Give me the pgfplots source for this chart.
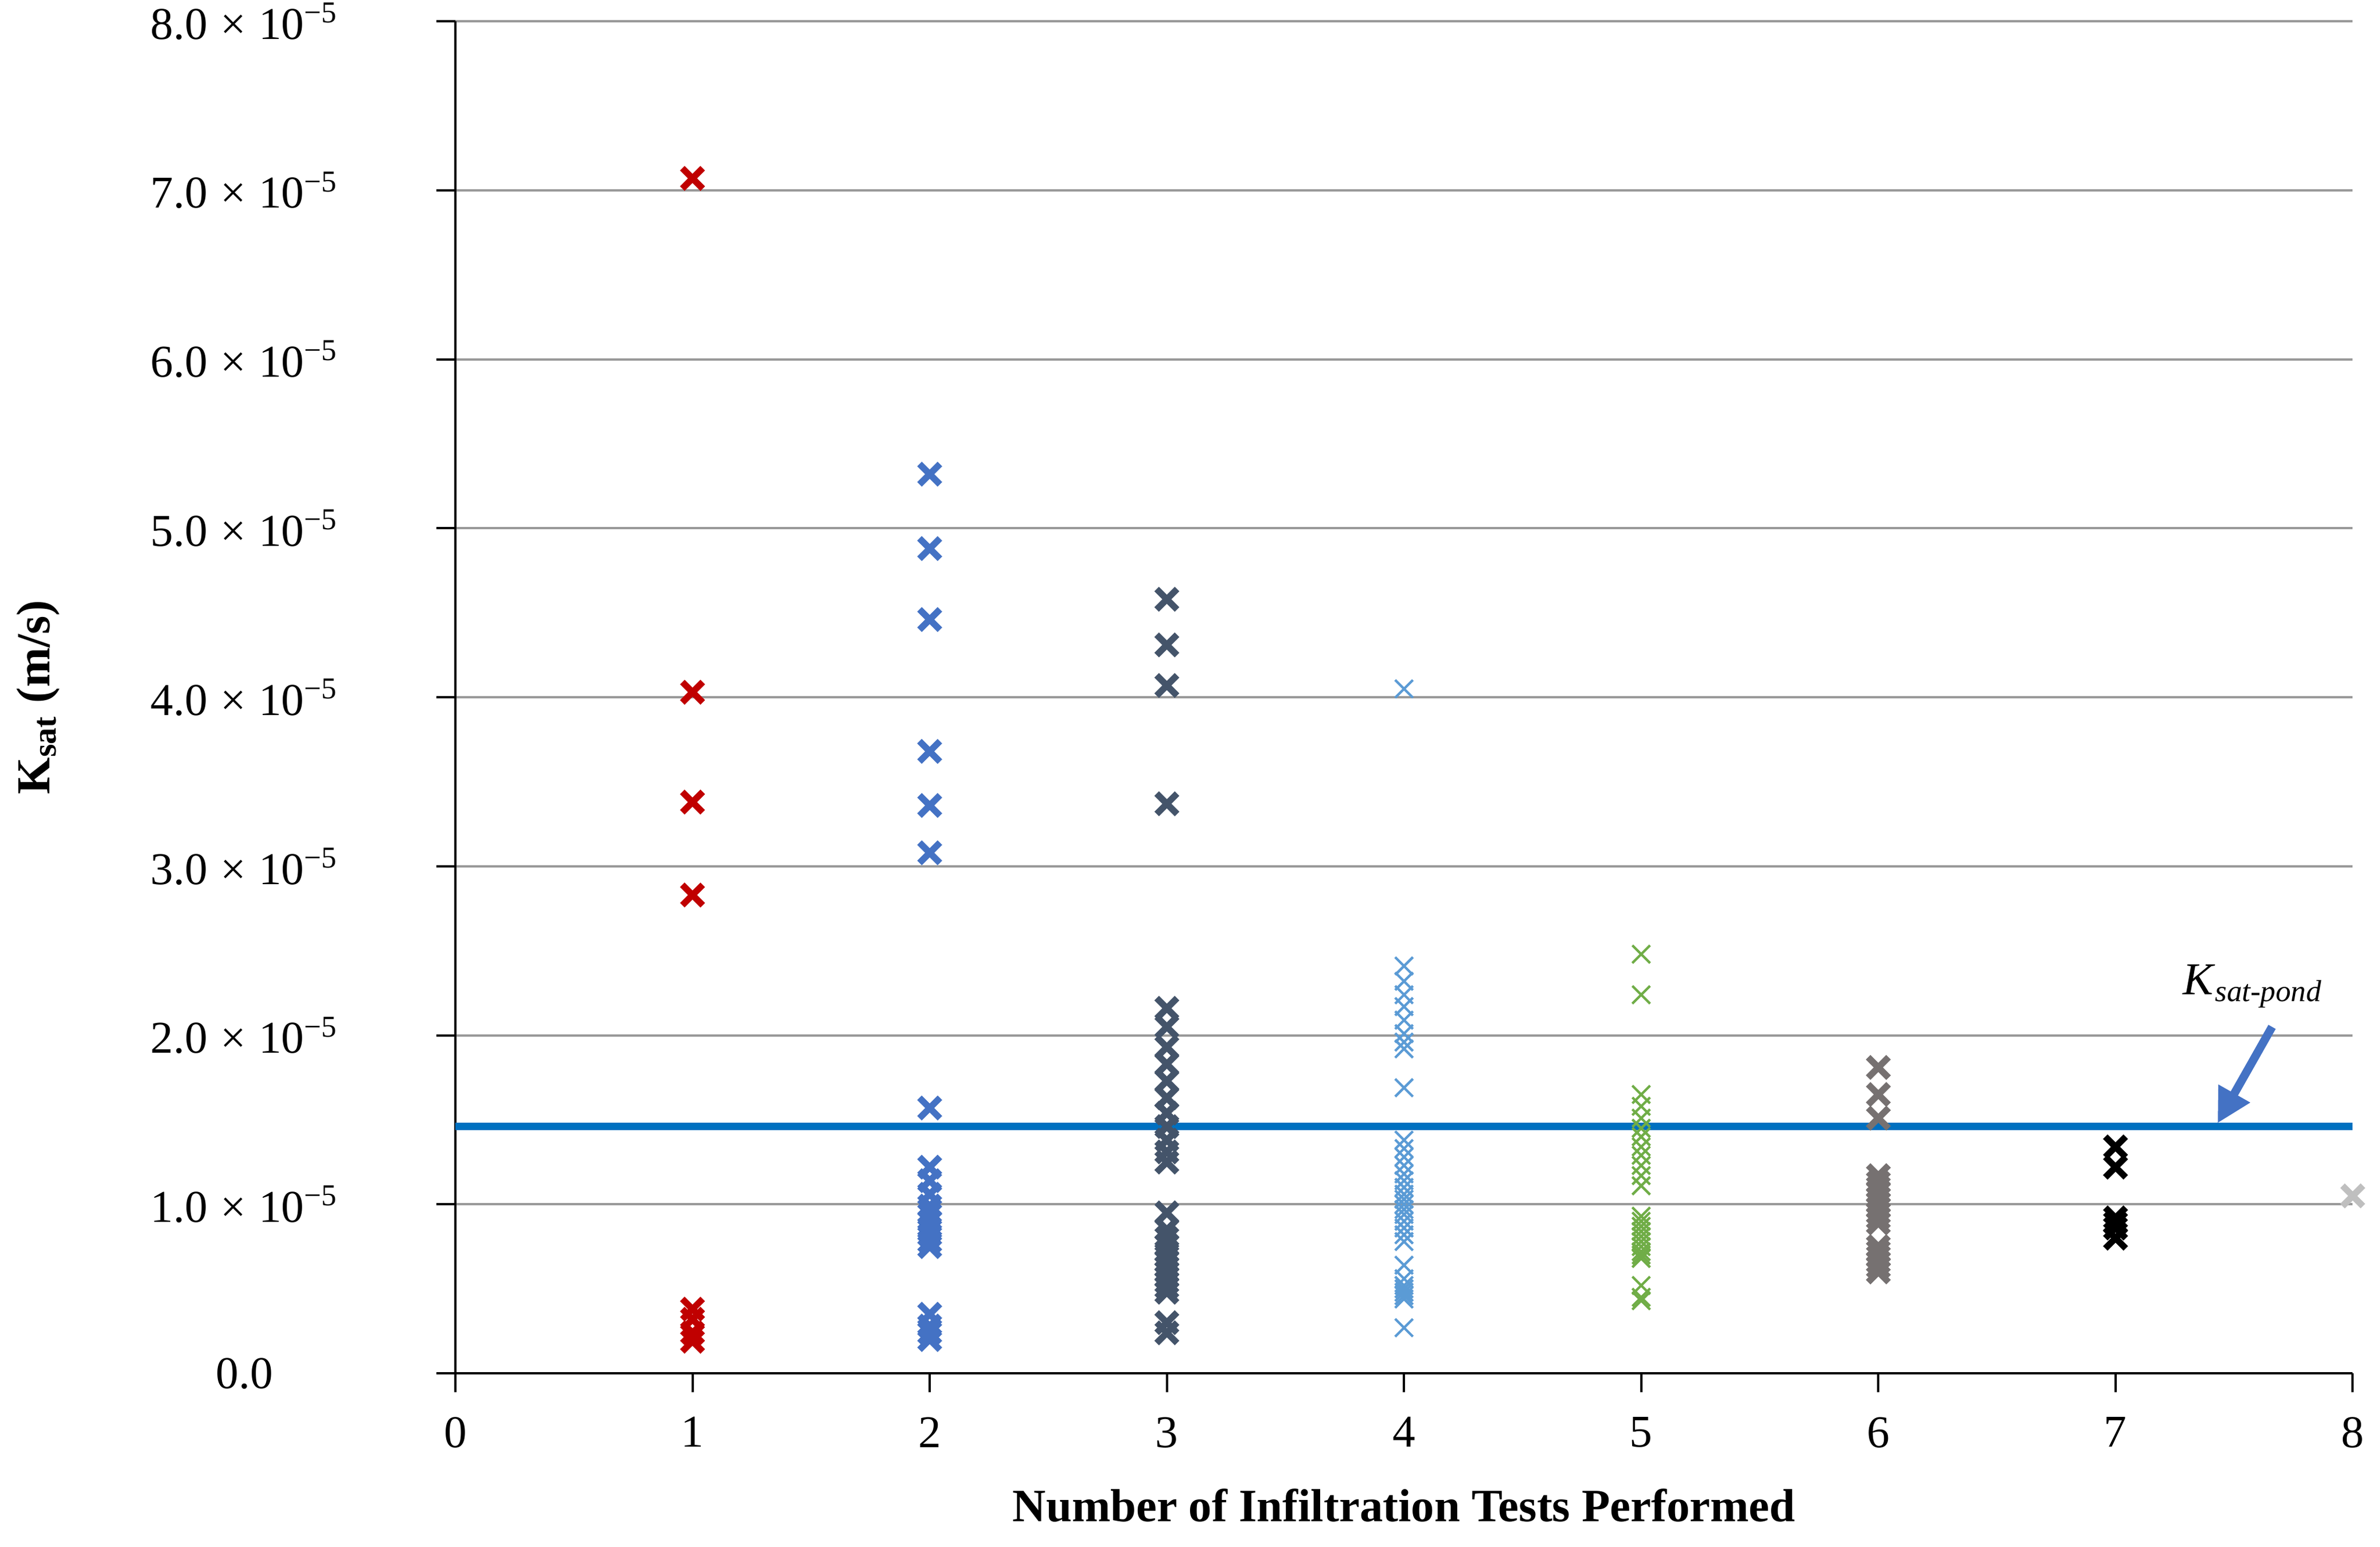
\documentclass[border=0pt]{standalone}
\usepackage{pgfplots}
\pgfplotsset{compat=1.18}
\usepackage{fontspec}
\setmainfont{Liberation Serif}
\usetikzlibrary{arrows.meta}

\definecolor{cRed}{HTML}{C00000}
\definecolor{cBlue}{HTML}{4472C4}
\definecolor{cSlate}{HTML}{44546A}
\definecolor{cLight}{HTML}{5B9BD5}
\definecolor{cGreen}{HTML}{70AD47}
\definecolor{cGray}{HTML}{767171}
\definecolor{cPale}{HTML}{BFBFBF}
\definecolor{cLine}{HTML}{0070C0}

\begin{document}
\begin{tikzpicture}
\begin{axis}[
  scale only axis, width=500pt, height=356.4pt,
  xmin=0, xmax=8, ymin=0, ymax=8e-5,
  axis lines=left, axis line style={-, black, line width=0.6pt},
  clip=false,
  xtick={0,1,2,3,4,5,6,7,8},
  ytick={0,1e-5,2e-5,3e-5,4e-5,5e-5,6e-5,7e-5,8e-5},
  yticklabels={0.0,
    1.0\;×\;10\textsuperscript{−5}, 2.0\;×\;10\textsuperscript{−5},
    3.0\;×\;10\textsuperscript{−5}, 4.0\;×\;10\textsuperscript{−5},
    5.0\;×\;10\textsuperscript{−5}, 6.0\;×\;10\textsuperscript{−5},
    7.0\;×\;10\textsuperscript{−5}, 8.0\;×\;10\textsuperscript{−5}},
  scaled y ticks=false,
  /pgf/number format/assume math mode=true,
  tick align=outside, major tick length=5pt,
  tick style={black, line width=0.6pt},
  ticklabel style={font=\fontsize{12}{14}\selectfont},
  xticklabel style={yshift=-3pt},
  yticklabel style={text width=94pt, align=center},
  ymajorgrids, grid style={black!40, line width=0.6pt},
  xlabel={Number of Infiltration Tests Performed},
  xlabel style={font=\bfseries\fontsize{12.2}{15}\selectfont,
    at={(rel axis cs:0.5,-0.0976)}, anchor=center},
  ylabel={K\textsubscript{sat} (m/s)},
  ylabel style={font=\bfseries\fontsize{12.5}{15}\selectfont,
    at={(rel axis cs:-0.22,0.5)}, anchor=center},
  thickx/.style={only marks, mark=x, mark size=3.8pt,
    mark options={line width=1.7pt}},
  thinx/.style={only marks, mark=x, mark size=3.3pt,
    mark options={line width=0.65pt}},
]

% threshold line
\addplot[cLine, line width=2pt] coordinates {(0,1.46e-5) (8,1.46e-5)};

% 1 test
\addplot[thickx, cRed] coordinates {
 (1,7.07e-5) (1,4.03e-5) (1,3.38e-5) (1,2.83e-5)
 (1,0.38e-5) (1,0.32e-5) (1,0.24e-5) (1,0.19e-5)};

% 2 tests
\addplot[thickx, cBlue] coordinates {
 (2,5.32e-5) (2,4.88e-5) (2,4.46e-5) (2,3.68e-5) (2,3.36e-5) (2,3.08e-5)
 (2,1.57e-5) (2,1.22e-5) (2,1.14e-5) (2,1.06e-5) (2,0.99e-5) (2,0.94e-5)
 (2,0.90e-5) (2,0.86e-5) (2,0.82e-5) (2,0.78e-5) (2,0.75e-5)
 (2,0.35e-5) (2,0.28e-5) (2,0.24e-5) (2,0.20e-5)};

% 3 tests
\addplot[thickx, cSlate] coordinates {
 (3,4.58e-5) (3,4.31e-5) (3,4.07e-5) (3,3.37e-5)
 (3,2.16e-5) (3,2.05e-5) (3,1.93e-5) (3,1.83e-5) (3,1.73e-5) (3,1.63e-5)
 (3,1.54e-5) (3,1.46e-5) (3,1.38e-5) (3,1.31e-5) (3,1.25e-5)
 (3,0.95e-5) (3,0.85e-5) (3,0.80e-5) (3,0.76e-5) (3,0.72e-5) (3,0.69e-5)
 (3,0.66e-5) (3,0.63e-5) (3,0.60e-5) (3,0.57e-5) (3,0.54e-5) (3,0.51e-5)
 (3,0.48e-5) (3,0.30e-5) (3,0.24e-5)};

% 4 tests
\addplot[thinx, cLight] coordinates {
 (4,4.05e-5) (4,2.41e-5) (4,2.32e-5) (4,2.24e-5) (4,2.17e-5) (4,2.09e-5)
 (4,2.01e-5) (4,1.96e-5) (4,1.92e-5) (4,1.69e-5)
 (4,1.38e-5) (4,1.33e-5) (4,1.28e-5) (4,1.23e-5) (4,1.18e-5) (4,1.14e-5)
 (4,1.10e-5) (4,1.06e-5) (4,1.03e-5) (4,1.00e-5) (4,0.97e-5) (4,0.94e-5)
 (4,0.90e-5) (4,0.86e-5) (4,0.82e-5) (4,0.78e-5)
 (4,0.64e-5) (4,0.56e-5) (4,0.52e-5) (4,0.50e-5) (4,0.48e-5) (4,0.46e-5)
 (4,0.44e-5) (4,0.27e-5)};

% 5 tests
\addplot[thinx, cGreen] coordinates {
 (5,2.48e-5) (5,2.24e-5)
 (5,1.65e-5) (5,1.58e-5) (5,1.51e-5) (5,1.45e-5) (5,1.40e-5) (5,1.34e-5)
 (5,1.29e-5) (5,1.23e-5) (5,1.17e-5) (5,1.11e-5)
 (5,0.93e-5) (5,0.90e-5) (5,0.87e-5) (5,0.84e-5) (5,0.81e-5) (5,0.78e-5)
 (5,0.75e-5) (5,0.72e-5) (5,0.70e-5) (5,0.68e-5)
 (5,0.52e-5) (5,0.45e-5) (5,0.43e-5)};

% 6 tests
\addplot[thickx, cGray] coordinates {
 (6,1.81e-5) (6,1.65e-5) (6,1.51e-5)
 (6,1.17e-5) (6,1.13e-5) (6,1.10e-5) (6,1.07e-5) (6,1.04e-5) (6,1.01e-5)
 (6,0.98e-5) (6,0.95e-5) (6,0.92e-5) (6,0.89e-5)
 (6,0.75e-5) (6,0.72e-5) (6,0.69e-5) (6,0.66e-5) (6,0.63e-5) (6,0.60e-5)};

% 7 tests
\addplot[thickx, black] coordinates {
 (7,1.34e-5) (7,1.22e-5) (7,0.92e-5) (7,0.89e-5) (7,0.86e-5) (7,0.80e-5)};

% 8 tests
\addplot[thickx, cPale] coordinates {(8,1.05e-5)};

\draw[cBlue, line width=2.2pt, -{Triangle[length=9pt, width=9pt]}]
  (axis cs:7.66,2.05e-5) -- (axis cs:7.43,1.48e-5);
\node[font=\fontsize{12}{14}\selectfont] at (axis cs:7.58,2.29e-5)
  {\textit{K}\textsubscript{\textit{sat-pond}}};

\coordinate (bl) at (rel axis cs:-0.24,-0.128);
\coordinate (tr) at (rel axis cs:1.0144,1.0157);
\end{axis}
\pgfresetboundingbox
\useasboundingbox (bl) rectangle (tr);
\end{tikzpicture}
\end{document}
